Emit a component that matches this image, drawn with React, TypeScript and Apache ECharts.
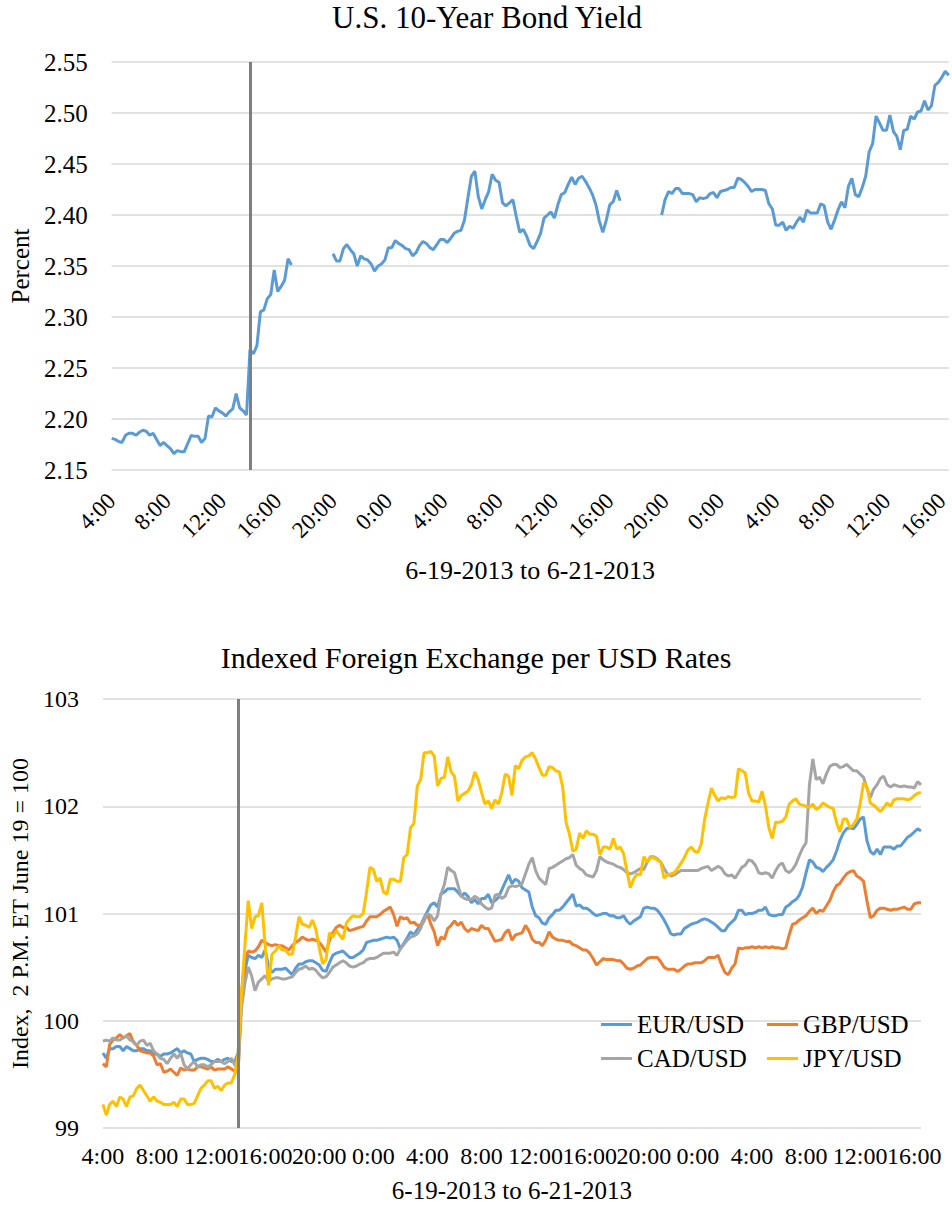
import React, { useEffect, useRef } from "react";
import * as echarts from "echarts";

// ---- time axis (hours after 4:00 on 6-19-2013), one reading every 15 minutes ----
const STEP_HOURS = 0.25;
const START_HOUR = 4;
const EVENT_HOUR = 10; // 2 P.M. ET June 19
const X_MAX = 60.5;
const X_TICK = 4;

const TOP_TITLE = "U.S. 10-Year Bond Yield";
const BOTTOM_TITLE = "Indexed Foreign Exchange per USD Rates";
const X_NAME = "6-19-2013 to 6-21-2013";
const TOP_Y_NAME = "Percent";
const BOTTOM_Y_NAME = "Index,  2 P.M. ET June 19 = 100";
const FX_NAMES = ["EUR/USD", "GBP/USD", "CAD/USD", "JPY/USD"];

// U.S. 10-year yield, percent (null = no quotes)
const bondYield: (number | null)[] = [
  2.181, 2.180, 2.178, 2.177, 2.184, 2.186, 2.186, 2.184, 2.187, 2.189,
  2.188, 2.184, 2.186, 2.180, 2.174, 2.177, 2.174, 2.171, 2.166, 2.169,
  2.168, 2.168, 2.176, 2.184, 2.183, 2.183, 2.177, 2.181, 2.203, 2.202,
  2.211, 2.208, 2.206, 2.203, 2.207, 2.210, 2.225, 2.211, 2.208, 2.204,
  2.268, 2.264, 2.272, 2.305, 2.307, 2.318, 2.322, 2.346, 2.325, 2.330,
  2.336, 2.357, 2.351,
  null, null, null, null, null, null, null, null, null, null, null,
  2.362, 2.355, 2.355, 2.367, 2.371, 2.366, 2.362, 2.350, 2.360, 2.357,
  2.356, 2.352, 2.345, 2.350, 2.352, 2.356, 2.368, 2.368, 2.375, 2.372,
  2.370, 2.367, 2.366, 2.360, 2.363, 2.370, 2.374, 2.372, 2.368, 2.366,
  2.371, 2.376, 2.376, 2.373, 2.377, 2.382, 2.384, 2.385, 2.395, 2.417,
  2.438, 2.443,
  2.418, 2.406, 2.415, 2.423, 2.440, 2.434, 2.432, 2.412, 2.409, 2.412,
  2.415, 2.398, 2.383, 2.386, 2.379, 2.370, 2.367, 2.374, 2.382, 2.397,
  2.400, 2.403, 2.397, 2.410, 2.420, 2.422, 2.430, 2.437, 2.430, 2.436,
  2.438, 2.433, 2.427, 2.420, 2.410, 2.394, 2.383, 2.395, 2.410, 2.413,
  2.424, 2.414,
  null, null, null, null, null, null, null, null, null, null, null,
  2.400, 2.415, 2.423, 2.421, 2.426, 2.426, 2.421, 2.421, 2.421, 2.420,
  2.413, 2.417, 2.416, 2.417, 2.421, 2.422, 2.417, 2.423, 2.424, 2.425,
  2.427, 2.427, 2.436, 2.435, 2.432, 2.428, 2.423, 2.425, 2.425, 2.425,
  2.424, 2.411, 2.406, 2.390, 2.390, 2.393, 2.385, 2.389, 2.387, 2.393,
  2.398, 2.393, 2.405, 2.402, 2.402, 2.402, 2.411, 2.409, 2.393, 2.386,
  2.395, 2.405, 2.413, 2.407, 2.428, 2.436, 2.420, 2.418, 2.427, 2.438,
  2.462, 2.470, 2.497, 2.490, 2.483, 2.483, 2.498, 2.482, 2.477, 2.464,
  2.483, 2.484, 2.497, 2.494, 2.501, 2.502, 2.512, 2.503, 2.507, 2.527,
  2.530, 2.535, 2.541, 2.537,
];

// Indexed FX per USD, 2 P.M. ET June 19 = 100
const eurUsd: number[] = [
  99.70, 99.65, 99.74, 99.74, 99.76, 99.76, 99.72, 99.76, 99.74, 99.72,
  99.72, 99.74, 99.74, 99.72, 99.72, 99.69, 99.69, 99.67, 99.69, 99.69,
  99.70, 99.72, 99.74, 99.70, 99.72, 99.70, 99.69, 99.62, 99.64, 99.65,
  99.65, 99.64, 99.62, 99.62, 99.64, 99.62, 99.64, 99.65, 99.62, 99.62,
  99.70,
  100.19, 100.47, 100.61, 100.59, 100.58, 100.61, 100.59, 100.66, 100.51, 100.45,
  100.48, 100.48, 100.48, 100.49, 100.46, 100.43, 100.49, 100.53, 100.53, 100.55,
  100.56, 100.56, 100.54, 100.52, 100.47, 100.46, 100.54, 100.61, 100.63, 100.64,
  100.65, 100.62, 100.59, 100.59, 100.61, 100.63, 100.66, 100.73, 100.74, 100.75,
  100.75, 100.76, 100.77, 100.78, 100.77, 100.78, 100.75, 100.67, 100.72, 100.77,
  100.83, 100.80, 100.85, 100.89, 100.96, 101.02, 101.08, 101.10, 101.06, 101.18,
  101.20, 101.23, 101.23, 101.23, 101.20, 101.16, 101.19, 101.16, 101.10, 101.13,
  101.09,
  101.14, 101.14, 101.18, 101.10, 101.12, 101.15, 101.22, 101.29, 101.36, 101.28,
  101.32, 101.30, 101.24, 101.22, 101.20, 101.06, 100.98, 100.96, 100.91, 100.90,
  100.96, 100.99, 101.03, 101.03, 101.06, 101.10, 101.14, 101.18, 101.07, 101.08,
  101.05, 101.05, 101.03, 101.00, 100.98, 100.99, 101.00, 101.00, 100.98, 100.98,
  100.96, 100.96, 100.98, 100.93, 100.90, 100.93, 100.95, 100.97, 101.05, 101.06,
  101.05, 101.05, 101.03, 100.99, 100.94, 100.88, 100.81, 100.80, 100.81, 100.81,
  100.86, 100.88, 100.90, 100.91, 100.92, 100.94, 100.95, 100.94, 100.92, 100.90,
  100.87, 100.84, 100.84, 100.89, 100.92, 100.95, 101.03, 101.03, 100.99, 101.00,
  101.00, 101.01, 101.03, 101.03, 101.06, 100.99, 100.98, 100.98, 100.99, 100.99,
  101.06, 101.08, 101.11, 101.13, 101.17, 101.25, 101.38, 101.50, 101.48, 101.43,
  101.42, 101.39, 101.43, 101.46, 101.50, 101.58, 101.68, 101.75, 101.79, 101.80,
  101.79, 101.83, 101.88, 101.90, 101.68, 101.58, 101.55, 101.60, 101.55, 101.62,
  101.62, 101.62, 101.60, 101.63, 101.63, 101.67, 101.71, 101.73, 101.76, 101.79,
  101.77,
];

const gbpUsd: number[] = [
  99.60, 99.57, 99.78, 99.82, 99.84, 99.87, 99.84, 99.86, 99.88, 99.80,
  99.77, 99.72, 99.71, 99.70, 99.70, 99.67, 99.59, 99.60, 99.52, 99.53,
  99.55, 99.52, 99.49, 99.56, 99.54, 99.55, 99.54, 99.54, 99.57, 99.57,
  99.56, 99.55, 99.57, 99.54, 99.55, 99.55, 99.55, 99.57, 99.55, 99.53,
  99.52,
  100.25, 100.58, 100.65, 100.64, 100.65, 100.69, 100.75, 100.73, 100.71, 100.70,
  100.71, 100.70, 100.70, 100.68, 100.66, 100.70, 100.73, 100.75, 100.78, 100.76,
  100.75, 100.76, 100.75, 100.73, 100.69, 100.64, 100.75, 100.82, 100.87, 100.89,
  100.87, 100.87, 100.84, 100.85, 100.86, 100.87, 100.88, 100.93, 100.97, 100.97,
  100.97, 100.99, 101.02, 101.04, 101.06, 100.99, 100.88, 100.97, 100.95, 100.96,
  100.91, 100.92, 100.89, 100.89, 100.93, 101.00, 100.90, 100.83, 100.70, 100.78,
  100.76, 100.86, 100.89, 100.93, 100.89, 100.92, 100.86, 100.83, 100.86, 100.85,
  100.84,
  100.89, 100.86, 100.86, 100.80, 100.74, 100.75, 100.76, 100.82, 100.85, 100.75,
  100.80, 100.81, 100.82, 100.89, 100.84, 100.76, 100.73, 100.73, 100.70, 100.75,
  100.83, 100.78, 100.76, 100.75, 100.75, 100.74, 100.74, 100.71, 100.70, 100.68,
  100.66, 100.66, 100.63, 100.58, 100.52, 100.55, 100.58, 100.57, 100.57, 100.57,
  100.56, 100.56, 100.53, 100.49, 100.48, 100.49, 100.51, 100.52, 100.55, 100.58,
  100.59, 100.59, 100.59, 100.55, 100.50, 100.48, 100.48, 100.48, 100.46, 100.48,
  100.51, 100.53, 100.53, 100.54, 100.54, 100.54, 100.56, 100.59, 100.59, 100.59,
  100.61, 100.52, 100.45, 100.43, 100.49, 100.53, 100.68, 100.67, 100.68, 100.68,
  100.69, 100.68, 100.69, 100.68, 100.69, 100.68, 100.69, 100.68, 100.68, 100.67,
  100.68, 100.80, 100.90, 100.91, 100.94, 100.96, 100.98, 101.02, 101.05, 101.00,
  101.03, 101.02, 101.07, 101.12, 101.20, 101.26, 101.28, 101.33, 101.37, 101.39,
  101.40, 101.35, 101.33, 101.30, 101.12, 100.96, 100.98, 101.03, 101.05, 101.05,
  101.04, 101.03, 101.04, 101.04, 101.05, 101.06, 101.04, 101.04, 101.09, 101.10,
  101.10,
];

const cadUsd: number[] = [
  99.81, 99.82, 99.81, 99.84, 99.82, 99.82, 99.84, 99.86, 99.82, 99.81,
  99.77, 99.81, 99.82, 99.77, 99.79, 99.72, 99.69, 99.65, 99.64, 99.60,
  99.65, 99.69, 99.65, 99.70, 99.59, 99.55, 99.59, 99.62, 99.57, 99.59,
  99.59, 99.57, 99.59, 99.62, 99.62, 99.62, 99.60, 99.62, 99.65, 99.59,
  99.54,
  100.12, 100.35, 100.50, 100.42, 100.28, 100.36, 100.39, 100.42, 100.37, 100.39,
  100.40, 100.40, 100.39, 100.39, 100.40, 100.41, 100.45, 100.48, 100.49, 100.51,
  100.48, 100.49, 100.47, 100.43, 100.40, 100.41, 100.45, 100.50, 100.52, 100.54,
  100.56, 100.54, 100.51, 100.50, 100.51, 100.53, 100.54, 100.57, 100.58, 100.58,
  100.59, 100.61, 100.63, 100.63, 100.63, 100.64, 100.61, 100.67, 100.71, 100.75,
  100.78, 100.79, 100.81, 100.86, 100.95, 101.00, 100.98, 100.93, 100.98, 101.18,
  101.27, 101.43, 101.40, 101.38, 101.27, 101.16, 101.14, 101.13, 101.13, 101.16,
  101.14,
  101.09, 101.06, 101.04, 101.05, 101.17, 101.18, 101.14, 101.16, 101.24, 101.26,
  101.25, 101.26, 101.28, 101.37, 101.46, 101.52, 101.40, 101.33, 101.30, 101.27,
  101.42, 101.43, 101.45, 101.47, 101.49, 101.51, 101.52, 101.55, 101.45, 101.42,
  101.40, 101.36, 101.35, 101.34, 101.40, 101.53, 101.50, 101.48, 101.47, 101.46,
  101.44, 101.43, 101.41, 101.38, 101.37, 101.38, 101.40, 101.42, 101.41, 101.48,
  101.53, 101.53, 101.51, 101.48, 101.42, 101.37, 101.35, 101.36, 101.38, 101.40,
  101.40, 101.40, 101.40, 101.40, 101.40, 101.42, 101.43, 101.44, 101.40, 101.42,
  101.44, 101.42, 101.37, 101.35, 101.36, 101.33, 101.38, 101.43, 101.45, 101.50,
  101.49, 101.45, 101.38, 101.37, 101.38, 101.37, 101.33, 101.40, 101.45, 101.47,
  101.40, 101.38, 101.41, 101.46, 101.54, 101.61, 101.66, 102.20, 102.44, 102.25,
  102.27, 102.21, 102.30, 102.37, 102.39, 102.39, 102.36, 102.37, 102.39, 102.36,
  102.33, 102.33, 102.30, 102.27, 102.17, 102.08, 102.16, 102.20, 102.26, 102.28,
  102.20, 102.18, 102.20, 102.19, 102.18, 102.19, 102.18, 102.18, 102.17, 102.23,
  102.20,
];

const jpyUsd: number[] = [
  99.22, 99.12, 99.22, 99.25, 99.20, 99.29, 99.27, 99.20, 99.29, 99.30,
  99.37, 99.40, 99.35, 99.30, 99.25, 99.29, 99.25, 99.24, 99.22, 99.22,
  99.22, 99.24, 99.20, 99.27, 99.27, 99.22, 99.22, 99.23, 99.30, 99.37,
  99.40, 99.44, 99.44, 99.37, 99.39, 99.35, 99.40, 99.42, 99.42, 99.50,
  99.69,
  100.25, 100.70, 101.12, 100.86, 100.97, 100.98, 101.10, 100.70, 100.33, 100.62,
  100.65, 100.70, 100.66, 100.66, 100.62, 100.62, 100.78, 100.97, 100.90, 100.89,
  100.87, 100.94, 100.85, 100.68, 100.53, 100.57, 100.82, 100.78, 100.84, 100.80,
  100.76, 100.91, 100.95, 100.98, 100.97, 100.97, 101.00, 101.20, 101.43, 101.41,
  101.30, 101.33, 101.20, 101.18, 101.32, 101.32, 101.30, 101.30, 101.52, 101.55,
  101.80, 101.84, 102.19, 102.25, 102.50, 102.50, 102.51, 102.47, 102.19, 102.26,
  102.27, 102.46, 102.32, 102.28, 102.05, 102.10, 102.12, 102.14, 102.20, 102.32,
  102.25,
  102.13, 102.02, 102.05, 101.98, 102.06, 102.02, 102.13, 102.30, 102.28, 102.10,
  102.38, 102.35, 102.43, 102.46, 102.47, 102.50, 102.44, 102.36, 102.29, 102.29,
  102.37, 102.36, 102.33, 102.32, 102.18, 101.85, 101.74, 101.58, 101.60, 101.75,
  101.70, 101.77, 101.74, 101.74, 101.72, 101.55, 101.62, 101.62, 101.60, 101.70,
  101.60, 101.62, 101.56, 101.40, 101.24, 101.32, 101.37, 101.36, 101.53, 101.48,
  101.52, 101.52, 101.50, 101.48, 101.33, 101.36, 101.37, 101.38, 101.42, 101.47,
  101.52, 101.59, 101.62, 101.58, 101.57, 101.65, 101.88, 102.03, 102.17, 102.10,
  102.05, 102.08, 102.07, 102.09, 102.08, 102.09, 102.35, 102.33, 102.31, 102.12,
  102.05, 102.05, 102.04, 102.14, 102.00, 101.80, 101.70, 101.85, 101.85, 101.86,
  101.90, 102.02, 102.05, 102.07, 102.02, 102.01, 102.00, 101.99, 102.02, 101.97,
  101.99, 102.03, 102.01, 101.99, 101.98, 101.85, 101.76, 101.88, 101.88, 101.80,
  101.83, 101.88, 102.02, 102.22, 102.18, 102.03, 102.01, 101.98, 101.95, 101.99,
  102.03, 102.00, 102.06, 102.07, 102.07, 102.07, 102.06, 102.07, 102.10, 102.12,
  102.13,
];

const FX_SERIES = [eurUsd, gbpUsd, cadUsd, jpyUsd];
const FX_COLORS = ["#5B9BD5", "#ED7D31", "#A5A5A5", "#FFC000"];
const BOND_COLOR = "#5B9BD5";
const EVENT_COLOR = "#7F7F7F";
const GRID_COLOR = "#D9D9D9";
const FONT = "'Liberation Serif', 'Times New Roman', serif";

const toPairs = (values: (number | null)[]) =>
  values.map((v, i) => [i * STEP_HOURS, v]);
const hourLabel = (v: number) => `${(Math.round(v) + START_HOUR) % 24}:00`;

function eventLine(xi: number) {
  return {
    type: "line",
    xAxisIndex: xi,
    yAxisIndex: xi,
    data: [],
    z: 1,
    silent: true,
    markLine: {
      silent: true,
      symbol: ["none", "none"],
      label: { show: false },
      emphasis: { disabled: true },
      lineStyle: { color: EVENT_COLOR, width: 3, type: "solid" },
      data: [{ xAxis: EVENT_HOUR }],
    },
  };
}

function buildOption() {
  const txt = { fontFamily: FONT, color: "#000" };
  const xAxisBase = {
    type: "value",
    min: 0,
    max: X_MAX,
    interval: X_TICK,
    axisLine: { show: false },
    axisTick: { show: false },
    splitLine: { show: false },
    nameLocation: "middle",
  };
  const legendBase = {
    icon: "rect",
    itemWidth: 31,
    itemHeight: 3,
    padding: 0,
    selectedMode: false,
    textStyle: { ...txt, fontSize: 25 },
  };
  const legendPos = [
    [601, 1012],
    [767, 1012],
    [601, 1046],
    [767, 1046],
  ];
  return {
    animation: false,
    textStyle: txt,
    title: [
      {
        text: TOP_TITLE,
        left: 332,
        top: 2,
        padding: 0,
        textStyle: { ...txt, fontSize: 31, fontWeight: "normal" },
      },
      {
        text: BOTTOM_TITLE,
        left: "center",
        top: 642,
        padding: 0,
        textStyle: { ...txt, fontSize: 30, fontWeight: "normal" },
      },
    ],
    legend: FX_NAMES.map((n, i) => ({
      ...legendBase,
      data: [n],
      left: legendPos[i][0],
      top: legendPos[i][1],
    })),
    grid: [
      { left: 105, top: 62, width: 846, height: 408 },
      { left: 96, top: 699, width: 825, height: 429 },
    ],
    xAxis: [
      {
        ...xAxisBase,
        gridIndex: 0,
        axisLabel: {
          ...txt,
          fontSize: 23,
          rotate: 45,
          margin: 27,
          formatter: hourLabel,
          showMaxLabel: false,
        },
        name: X_NAME,
        nameGap: 87,
        nameTextStyle: { ...txt, fontSize: 26 },
      },
      {
        ...xAxisBase,
        gridIndex: 1,
        axisLabel: {
          ...txt,
          fontSize: 24,
          margin: 16,
          formatter: hourLabel,
          showMaxLabel: false,
        },
        name: X_NAME,
        nameGap: 50,
        nameTextStyle: { ...txt, fontSize: 25 },
      },
    ],
    yAxis: [
      {
        type: "value",
        gridIndex: 0,
        min: 2.15,
        max: 2.55,
        interval: 0.05,
        axisLine: { show: false },
        axisTick: { show: false },
        axisLabel: {
          ...txt,
          fontSize: 25,
          margin: 24,
          formatter: (v: number) => v.toFixed(2),
        },
        splitLine: { lineStyle: { color: GRID_COLOR, width: 1.5 } },
        name: TOP_Y_NAME,
        nameLocation: "middle",
        nameGap: 72,
        nameTextStyle: { ...txt, fontSize: 25 },
      },
      {
        type: "value",
        gridIndex: 1,
        min: 99,
        max: 103,
        interval: 1,
        axisLine: { show: false },
        axisTick: { show: false },
        axisLabel: { ...txt, fontSize: 24, margin: 24 },
        splitLine: { lineStyle: { color: GRID_COLOR, width: 1.5 } },
        name: BOTTOM_Y_NAME,
        nameLocation: "middle",
        nameGap: 66,
        nameTextStyle: { ...txt, fontSize: 24 },
      },
    ],
    series: [
      eventLine(0),
      eventLine(1),
      {
        type: "line",
        name: "10-Year Yield",
        xAxisIndex: 0,
        yAxisIndex: 0,
        data: toPairs(bondYield),
        showSymbol: false,
        symbol: "none",
        connectNulls: false,
        z: 3,
        lineStyle: { color: BOND_COLOR, width: 3 },
        itemStyle: { color: BOND_COLOR },
        emphasis: { disabled: true },
      },
      ...FX_SERIES.map((vals, i) => ({
        type: "line",
        name: FX_NAMES[i],
        xAxisIndex: 1,
        yAxisIndex: 1,
        data: toPairs(vals),
        showSymbol: false,
        symbol: "none",
        z: 3,
        lineStyle: { color: FX_COLORS[i], width: 3 },
        itemStyle: { color: FX_COLORS[i] },
        emphasis: { disabled: true },
      })),
    ],
  };
}

export default function App() {
  const ref = useRef<HTMLDivElement>(null);
  useEffect(() => {
    if (!ref.current) return;
    const chart = echarts.init(ref.current, null, { renderer: "svg" });
    chart.setOption(buildOption() as any);
    return () => chart.dispose();
  }, []);
  return (
    <div
      ref={ref}
      style={{
        position: "absolute",
        left: 0,
        top: 0,
        width: 952,
        height: 1205,
        background: "#fff",
      }}
    />
  );
}
